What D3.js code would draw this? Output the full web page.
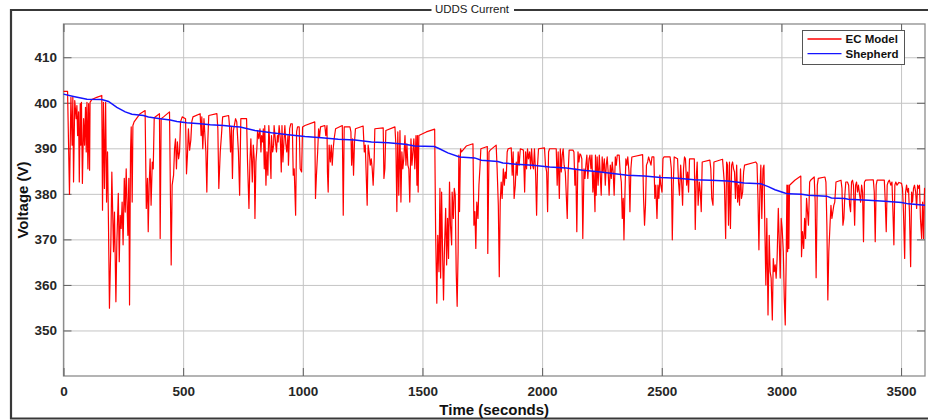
<!DOCTYPE html>
<html lang="en">
<head>
    <meta charset="UTF-8">
    <title>UDDS Current</title>
    <script src="https://d3js.org/d3.v7.min.js"></script>
    <style>
        body {
            margin: 0;
            background: #fff;
            font-family: "Liberation Sans", Arial, sans-serif;
        }

        .tick-label text {
            font-weight: bold;
            font-size: 13.5px;
            fill: #262626;
        }

        .grid line {
            stroke: #c4c4c4;
            stroke-width: 1;
        }

        .grid .domain {
            display: none;
        }
    </style>
</head>
<body>
    <svg id="chart" width="928" height="420"></svg>
    <script>
        // data: [time (s), voltage (V)]
        const ecModel = [
            [0,402.5],[17,402.5],[25,379.9],[31,401.2],[36,390.7],[39,401.2],[42,382.6],[47,400.5],[53,396.5],[56,399.4],
            [59,392.8],[63,398],[66,382.6],[70,399.8],[72,390.7],[75,400.1],[79,382.3],[84,396.5],[88,390.7],[92,399],
            [95,389.2],[98,400.1],[102,385.5],[105,399.8],[109,385.2],[111,400.1],[118,400.7],[139,401.2],[160,401.6],[163,376.4],
            [167,400.1],[171,381.2],[176,400.1],[180,378.2],[184,389.2],[188,373.1],[192,354.9],[198,369.5],[202,384.8],[209,367.3],
            [213,376],[219,356.3],[223,369.5],[229,380.1],[233,365.1],[237,375.3],[241,372.4],[245,378.2],[249,368.8],[254,383.4],
            [258,376],[262,385.5],[265,379],[269,370.9],[273,383.4],[276,355.6],[280,389.2],[283,394.7],[287,378.2],[290,395],
            [295,395.8],[320,397.6],[341,398.3],[346,376.8],[351,383.4],[354,371.7],[358,381.9],[362,387.7],[366,377.5],[371,387],
            [375,385.5],[379,396.5],[383,396.9],[401,397.6],[404,370.2],[408,396.5],[418,396.9],[443,398],[450,364.4],[454,381.9],
            [460,384.1],[464,389.9],[468,392.1],[472,385.5],[476,391.4],[481,387.7],[485,389.2],[489,395.8],[496,396.9],[510,396.5],
            [514,384.4],[518,388.5],[522,394.3],[527,389.6],[532,391.8],[536,395.8],[541,396.9],[571,397.6],[575,392.8],[578,396.9],
            [582,389.9],[587,396.5],[591,392.8],[595,389.2],[599,380.4],[603,391.4],[607,397.2],[641,397.6],[645,394.3],[649,381.2],
            [655,389.2],[660,392.8],[665,396.9],[690,397.2],[694,394.7],[698,389.2],[702,394.7],[706,383.4],[710,393.9],[719,396.5],
            [724,395.8],[731,389.2],[736,379.7],[741,396.5],[751,396.5],[765,396.5],[769,387],[775,376.8],[779,387],[783,392.1],
            [789,382.6],[793,390.7],[797,387.7],[800,374.6],[804,387],[808,389.9],[811,393.9],[816,392.1],[821,394.3],[825,389.2],
            [828,392.8],[832,391.4],[835,394.3],[839,385.5],[841,395],[846,381.9],[850,389.2],[854,384.1],[858,395],[862,390.7],
            [867,383.4],[869,392.8],[874,389.2],[878,390.7],[880,395],[886,391.4],[890,389.2],[894,392.8],[897,391.4],[901,395],
            [906,392.1],[910,384.8],[913,395],[917,387],[921,391.4],[925,395],[929,391],[933,389.2],[938,392.8],[940,386.3],
            [945,394.3],[950,395.4],[956,395.4],[960,384.1],[964,385.5],[967,380.4],[970,375.3],[974,393.6],[978,394.7],[985,394.7],
            [989,385.5],[995,384.8],[999,394.7],[1009,395],[1050,395.8],[1053,379],[1057,384.1],[1062,389.2],[1066,394.3],[1070,392.5],
            [1074,394.7],[1092,395],[1096,392.8],[1101,395],[1103,384.8],[1106,380.4],[1110,390.7],[1115,387],[1119,390.7],[1123,386.3],
            [1127,389.9],[1131,392.1],[1137,394.3],[1165,395],[1169,375.3],[1173,394.7],[1197,394.7],[1201,393.6],[1204,386.3],[1208,392.1],
            [1212,384.1],[1216,391.4],[1220,394.3],[1252,394.9],[1257,389.2],[1261,390.7],[1265,384.1],[1269,377.5],[1273,390.7],[1277,389.2],
            [1282,386.3],[1286,387.7],[1290,385.5],[1294,381.9],[1298,387],[1301,394.3],[1336,394.5],[1339,383.4],[1343,385.5],[1347,393.9],
            [1385,394.7],[1389,390.7],[1393,376.1],[1397,393.6],[1401,379.7],[1406,393.9],[1410,378.2],[1414,389.2],[1418,385.5],[1422,387.7],
            [1427,392.8],[1431,386.3],[1435,391],[1439,386.3],[1443,385.5],[1447,378.2],[1452,392.1],[1456,386.3],[1460,389.2],[1464,392.1],
            [1468,385.5],[1473,392.8],[1477,381.9],[1479,392.8],[1482,380.4],[1485,392.8],[1516,393.6],[1551,394.2],[1555,371.7],[1560,356],
            [1564,370.9],[1569,362.9],[1573,381.2],[1576,361.5],[1580,380.4],[1584,367.3],[1588,356.7],[1592,368],[1597,376.8],[1601,364.4],
            [1605,374.6],[1609,365.8],[1613,382.6],[1617,373.1],[1622,368.8],[1624,380.4],[1629,374.6],[1633,381.2],[1637,379.7],[1641,362.9],
            [1645,355.3],[1649,367.3],[1652,388.5],[1655,376.1],[1659,389.9],[1663,389.2],[1683,390.5],[1711,391],[1715,373.1],[1719,376.1],
            [1723,368],[1727,378.2],[1732,374.6],[1736,381.9],[1740,385.5],[1744,389.9],[1771,390.4],[1773,366.9],[1778,389.2],[1783,389.6],
            [1808,390.7],[1812,385.5],[1817,377.5],[1821,361.8],[1825,378.2],[1829,382.6],[1833,379],[1838,385.5],[1842,381.9],[1846,384.8],
            [1850,383.4],[1854,389.2],[1858,389.9],[1871,390.1],[1875,384.1],[1879,389.2],[1883,379],[1888,381.9],[1892,387],[1896,384.1],
            [1900,389.2],[1904,386.3],[1909,389.9],[1922,389.6],[1927,380.4],[1931,389.2],[1935,385.5],[1939,389.9],[1943,387.7],[1948,389.2],
            [1952,385.5],[1956,389.9],[1960,386.3],[1964,385.5],[1968,389.9],[1973,384.1],[1977,375.3],[1981,386.3],[1985,389.9],[2010,390.1],
            [2014,386.3],[2019,384.8],[2023,376.1],[2027,389.2],[2031,389.9],[2059,389.9],[2063,381.9],[2067,389.2],[2072,379],[2076,389.9],
            [2080,384.8],[2084,388.5],[2088,389.9],[2092,386.3],[2097,384.8],[2101,379.7],[2105,374.6],[2109,384.8],[2113,389.6],[2129,389.6],
            [2133,389.2],[2137,381.9],[2141,385.5],[2145,371.7],[2150,389.2],[2154,387],[2158,388.8],[2162,388.5],[2166,387.7],[2170,370.2],
            [2175,385.5],[2179,383.4],[2183,386.3],[2187,388.5],[2191,383.4],[2196,387.7],[2200,388.5],[2204,385.5],[2208,388.5],[2212,380.4],
            [2216,384.8],[2221,376.1],[2223,388.5],[2226,379.7],[2230,388.1],[2234,381.9],[2239,388.5],[2243,384.1],[2247,379.7],[2251,388.1],
            [2255,384.8],[2260,387.7],[2264,381.9],[2268,386.3],[2272,388.1],[2276,384.8],[2280,379.7],[2285,386.3],[2289,383.4],[2293,387],
            [2297,384.8],[2301,379.7],[2306,388.1],[2310,386.3],[2314,388.5],[2322,388.5],[2326,384.8],[2331,382.6],[2335,374.6],[2339,379],
            [2342,369.9],[2346,379.7],[2350,387.7],[2354,386.3],[2358,388.1],[2363,384.8],[2367,376.1],[2371,385.5],[2375,388.1],[2420,388.6],
            [2424,379],[2428,373.1],[2432,377.5],[2436,386.3],[2441,387],[2445,388.1],[2455,386.3],[2459,388.1],[2467,388.1],[2471,379],
            [2475,381.9],[2480,374.6],[2484,381.9],[2488,379],[2492,384.1],[2496,381.9],[2501,380.4],[2505,387.7],[2509,388.1],[2535,388.1],
            [2540,385.5],[2544,369.9],[2548,381.9],[2552,388.1],[2566,387.7],[2570,382.6],[2574,379.7],[2579,386.3],[2583,382.6],[2587,377.5],
            [2591,385.5],[2595,388.1],[2599,387.7],[2604,381.9],[2608,384.8],[2612,380.4],[2616,387.7],[2636,387.7],[2640,372.2],[2644,383.4],
            [2648,387],[2652,377.5],[2657,382.6],[2661,380.4],[2665,376.1],[2669,387],[2701,387.4],[2705,385.5],[2709,379],[2714,377.5],
            [2718,387],[2754,387.6],[2758,384.8],[2762,381.9],[2767,370.2],[2771,387],[2775,386.3],[2779,373.1],[2783,387],[2787,372.4],
            [2792,386.3],[2796,387],[2800,385.5],[2804,384.8],[2808,379],[2813,386.3],[2817,378.2],[2821,381.9],[2825,377.5],[2829,385.5],
            [2833,379],[2838,380.4],[2842,384.8],[2846,386.3],[2893,387],[2898,386.6],[2902,379],[2906,367.7],[2910,380.4],[2914,386.3],
            [2918,374.6],[2923,385.5],[2927,386.3],[2931,371.7],[2935,360],[2939,374.6],[2944,353.4],[2949,370.9],[2953,362.9],[2957,361.5],
            [2962,352.3],[2966,365.8],[2970,362.9],[2974,364.4],[2978,361.5],[2982,365.8],[2987,376.8],[2991,369.5],[2995,361.5],[2999,374.6],
            [3003,372.4],[3008,367.3],[3012,357.1],[3016,351.2],[3020,365.8],[3023,381.9],[3026,367.3],[3028,381.9],[3031,368],[3034,381.9],
            [3056,383],[3081,383.9],[3084,366.2],[3088,371.7],[3093,368],[3097,374.6],[3101,370.2],[3105,379],[3109,376.1],[3113,373.1],
            [3118,382.6],[3122,383],[3137,383.7],[3141,378.2],[3145,361.6],[3150,381.9],[3154,383.4],[3182,383.7],[3186,382.6],[3190,373.1],
            [3194,356.7],[3198,367.3],[3203,373.1],[3207,377.5],[3211,374.6],[3215,376.1],[3219,377.5],[3223,378.2],[3228,382.6],[3249,383],
            [3253,381.2],[3257,373.1],[3261,374.6],[3265,379.7],[3269,382.6],[3276,382.6],[3281,381.9],[3285,377.5],[3289,376.1],[3293,382.6],
            [3297,383],[3301,381.9],[3306,373.1],[3310,381.9],[3314,382.6],[3318,380.4],[3322,381.9],[3327,379.7],[3331,378.2],[3335,381.9],
            [3339,380.4],[3343,369.5],[3347,382.6],[3352,383],[3384,383.1],[3388,380.4],[3392,369.5],[3396,381.9],[3400,383],[3430,383],
            [3434,378.2],[3438,371.7],[3442,381.9],[3446,382.6],[3451,383],[3457,381.9],[3462,382.6],[3466,376.1],[3470,368.8],[3474,381.9],
            [3478,382.6],[3483,381.9],[3491,382.5],[3502,382.3],[3506,381.2],[3510,376.1],[3515,365.8],[3519,380.4],[3523,381.9],[3527,380.4],
            [3531,381.2],[3535,376.1],[3540,364],[3544,380.4],[3548,378.2],[3552,381.2],[3556,381.9],[3561,380.4],[3565,376.8],[3569,381.9],
            [3573,381.2],[3577,381.9],[3581,374.6],[3586,370.2],[3590,378.2],[3594,370.2],[3598,381.2],[3600,381.2]
        ];

        const shepherd = [
            [0,401.9],[42,401.4],[98,400.8],[160,400.7],[188,400.3],[223,399],[258,398],[286,397.5],[334,397.2],[355,396.9],
            [404,396.5],[446,396.2],[474,395.9],[515,395.6],[571,395.4],[613,395.2],[669,395],[710,394.8],[738,394.7],[800,393.9],
            [869,393.4],[939,393],[1009,392.6],[1078,392.3],[1148,392],[1218,391.8],[1287,391.4],[1357,391.2],[1427,390.9],[1468,390.5],
            [1550,390.4],[1571,389.9],[1606,389],[1655,388.1],[1718,387.9],[1746,387.4],[1815,387.1],[1836,386.8],[1892,386.5],[1961,386.3],
            [2031,385.9],[2101,385.7],[2170,385.2],[2226,384.9],[2287,384.5],[2357,384.1],[2427,383.9],[2496,383.6],[2566,383.4],[2636,383.1],
            [2705,383],[2775,382.8],[2845,382.4],[2914,382.2],[2945,381.6],[2973,380.9],[3014,380.2],[3028,380],[3084,379.9],[3112,379.7],
            [3189,379.5],[3209,379.1],[3265,379],[3279,378.8],[3363,378.6],[3432,378.4],[3502,378.1],[3530,377.8],[3600,377.5]
        ];

        const xTicks = [0, 500, 1000, 1500, 2000, 2500, 3000, 3500];
        const yTicks = [350, 360, 370, 380, 390, 400, 410];
        const seriesNames = ["EC Model", "Shepherd"];
        const seriesColors = ["#ff0000", "#1414ff"];

        const plotLeft = 63.5, plotRight = 925, plotTop = 24, plotBottom = 376;

        const svg = d3.select("#chart");

        // panel frame with title in the top border
        const frame = svg.append("g")
            .attr("fill", "none")
            .attr("stroke", "#383838")
            .attr("stroke-width", 2.2);
        frame.append("path").attr("d", "M431.5,10 H11 V418.5 H940");
        frame.append("path").attr("d", "M514,10 H940");

        svg.append("text")
            .attr("x", 472)
            .attr("y", 13)
            .attr("text-anchor", "middle")
            .style("font-size", "11.5px")
            .style("fill", "#1a1a1a")
            .text("UDDS Current");

        const x = d3.scaleLinear().domain([0, 3600]).range([plotLeft, plotRight]);
        const y = d3.scaleLinear().domain([340, 417.3]).range([plotBottom, plotTop]);

        // grid
        svg.append("g")
            .attr("class", "grid")
            .attr("transform", `translate(0, ${plotBottom})`)
            .call(d3.axisBottom(x).tickValues(xTicks).tickSize(-(plotBottom - plotTop)).tickFormat(""));

        svg.append("g")
            .attr("class", "grid")
            .attr("transform", `translate(${plotLeft}, 0)`)
            .call(d3.axisLeft(y).tickValues(yTicks).tickSize(-(plotRight - plotLeft)).tickFormat(""));

        // box
        svg.append("rect")
            .attr("x", plotLeft)
            .attr("y", plotTop)
            .attr("width", plotRight - plotLeft)
            .attr("height", plotBottom - plotTop)
            .attr("fill", "none")
            .attr("stroke", "#8c8c8c")
            .attr("stroke-width", 1.3);

        // axes with inward ticks
        const xAxis = svg.append("g")
            .attr("class", "tick-label")
            .attr("transform", `translate(0, ${plotBottom})`)
            .call(d3.axisBottom(x).tickValues(xTicks).tickSize(-8).tickPadding(10.4).tickFormat(d3.format("d")));

        const yAxis = svg.append("g")
            .attr("class", "tick-label")
            .attr("transform", `translate(${plotLeft}, 0)`)
            .call(d3.axisLeft(y).tickValues(yTicks).tickSize(-8).tickPadding(6.5).tickFormat(d3.format("d")));

        const xTop = svg.append("g")
            .attr("transform", `translate(0, ${plotTop})`)
            .call(d3.axisTop(x).tickValues(xTicks).tickSize(-8).tickFormat(""));

        const yRight = svg.append("g")
            .attr("transform", `translate(${plotRight}, 0)`)
            .call(d3.axisRight(y).tickValues(yTicks).tickSize(-8).tickFormat(""));

        [xAxis, yAxis, xTop, yRight].forEach(g => {
            g.select(".domain").remove();
            g.selectAll(".tick line").attr("stroke", "#606060");
        });

        // axis labels
        svg.append("text")
            .attr("x", (plotLeft + plotRight) / 2)
            .attr("y", 415)
            .attr("text-anchor", "middle")
            .style("font-size", "15px")
            .style("font-weight", "bold")
            .style("fill", "#111")
            .text("Time (seconds)");

        svg.append("text")
            .attr("transform", `translate(28, ${(plotTop + plotBottom) / 2}) rotate(-90)`)
            .attr("text-anchor", "middle")
            .style("font-size", "15px")
            .style("font-weight", "bold")
            .style("fill", "#111")
            .text("Voltage (V)");

        // lines
        const line = d3.line()
            .x(d => x(d[0]))
            .y(d => y(d[1]));

        svg.append("path")
            .datum(ecModel)
            .attr("fill", "none")
            .attr("stroke", seriesColors[0])
            .attr("stroke-width", 1.2)
            .attr("stroke-linejoin", "round")
            .attr("d", line);

        svg.append("path")
            .datum(shepherd)
            .attr("fill", "none")
            .attr("stroke", seriesColors[1])
            .attr("stroke-width", 1.5)
            .attr("d", line);

        // legend
        const legend = svg.append("g").attr("transform", "translate(802.5, 30.5)");
        legend.append("rect")
            .attr("width", 102)
            .attr("height", 34)
            .attr("fill", "#fff")
            .attr("stroke", "#555");

        seriesNames.forEach((name, i) => {
            const row = legend.append("g").attr("transform", `translate(0, ${8.5 + i * 14.7})`);
            row.append("line")
                .attr("x1", 5).attr("x2", 39)
                .attr("stroke", seriesColors[i])
                .attr("stroke-width", 1.3);
            row.append("text")
                .attr("x", 43)
                .attr("y", 4.3)
                .style("font-size", "11.5px")
                .style("font-weight", "bold")
                .style("fill", "#111")
                .text(name);
        });
    </script>
</body>
</html>
